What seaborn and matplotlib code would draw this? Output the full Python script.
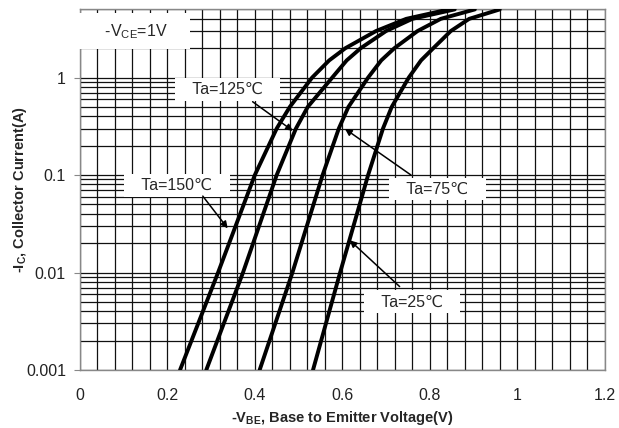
import numpy as np
import pandas as pd
import matplotlib
matplotlib.use("Agg")
import matplotlib.pyplot as plt
import matplotlib.ticker as mticker
import seaborn as sns

# Valores (Ic en A, -Vbe en V)
corriente = [0.001, 0.01, 0.1, 0.3, 0.5, 1, 1.5, 2, 3, 4, 5]
vbe_150 = [0.229, 0.316, 0.400, 0.450, 0.480, 0.531, 0.570, 0.607, 0.677, 0.746, 0.843]
vbe_125 = [0.289, 0.373, 0.450, 0.494, 0.521, 0.577, 0.610, 0.642, 0.700, 0.760, 0.857]
vbe_75 = [0.411, 0.486, 0.555, 0.592, 0.614, 0.659, 0.689, 0.719, 0.772, 0.825, 0.903]
vbe_25 = [0.533, 0.595, 0.659, 0.693, 0.713, 0.752, 0.780, 0.808, 0.848, 0.890, 0.960]

x_ticks = [0, 0.2, 0.4, 0.6, 0.8, 1.0, 1.2]
x_labels = ["0", "0.2", "0.4", "0.6", "0.8", "1", "1.2"]
y_ticks = [0.001, 0.01, 0.1, 1]
y_labels = ["0.001", "0.01", "0.1", "1"]

series = {"150": vbe_150, "125": vbe_125, "75": vbe_75, "25": vbe_25}
df = pd.concat(
    [pd.DataFrame({"vbe": v, "ic": corriente, "ta": k}) for k, v in series.items()],
    ignore_index=True,
)

sns.set_style("white")
plt.rcParams["font.family"] = ["Liberation Sans", "DejaVu Sans"]
plt.rcParams["mathtext.default"] = "regular"

fig = plt.figure(figsize=(6.19, 4.28), dpi=100)
ax = fig.add_axes([0.129, 0.1355, 0.848, 0.8425])

sns.lineplot(data=df, x="vbe", y="ic", hue="ta", palette=["black"] * 4,
             estimator=None, sort=False, lw=2.8, legend=False, ax=ax, zorder=4)

ax.set_yscale("log")
ax.set_xlim(0, 1.2)
ax.set_ylim(0.001, 5)

ax.set_xticks(x_ticks)
ax.set_xticklabels(x_labels, fontsize=11.5, color="#222222")
ax.xaxis.set_minor_locator(mticker.MultipleLocator(0.04))
ax.set_yticks(y_ticks)
ax.set_yticklabels(y_labels, fontsize=11.5, color="#222222")
ax.yaxis.set_minor_locator(mticker.LogLocator(base=10, subs=np.arange(2, 10)))
ax.yaxis.set_minor_formatter(mticker.NullFormatter())

ax.tick_params(axis="x", which="both", length=0, pad=13)
ax.tick_params(axis="y", which="major", length=4, color="#888888", pad=6, left=True)
ax.tick_params(axis="y", which="minor", length=0)

ax.grid(which="both", color="#111111", lw=0.9)
for s in ax.spines.values():
    s.set_color("#888888")
    s.set_linewidth(1)

ax.set_xlabel("-V$_{BE}$, Base to Emitter Voltage(V)", fontsize=10.5,
              fontweight="bold", labelpad=4)
ax.set_ylabel("-I$_{C}$, Collector Current(A)", fontsize=10.5,
              fontweight="bold", labelpad=-2)

caja = dict(boxstyle="square,pad=0.25", fc="white", ec="none")
flecha = dict(arrowstyle="-|>", color="black", lw=1.1, mutation_scale=10,
              shrinkA=0, shrinkB=0)

ax.text(0.124, 2.98, "    -V$_{CE}$=1V    ", fontsize=11.5, ha="center",
        va="center", bbox=dict(boxstyle="square,pad=0.55", fc="white", ec="none"),
        zorder=5)

etiquetas = [
    ("Ta=125℃", (0.338, 0.752), (0.395, 0.565), (0.487, 0.284)),
    ("Ta=150℃", (0.222, 0.079), (0.281, 0.0608), (0.338, 0.0284)),
    ("Ta=75℃", (0.818, 0.0719), (0.757, 0.1), (0.606, 0.298)),
    ("Ta=25℃", (0.759, 0.005), (0.731, 0.00718), (0.617, 0.0214)),
]
for texto, pos, cola, punta in etiquetas:
    ax.text(pos[0], pos[1], "   " + texto + "   ", fontsize=11.5, ha="center",
            va="center", bbox=caja, zorder=5)
    ax.annotate("", xy=punta, xytext=cola, arrowprops=flecha, zorder=6)

fig.savefig("out.png", dpi=100)
